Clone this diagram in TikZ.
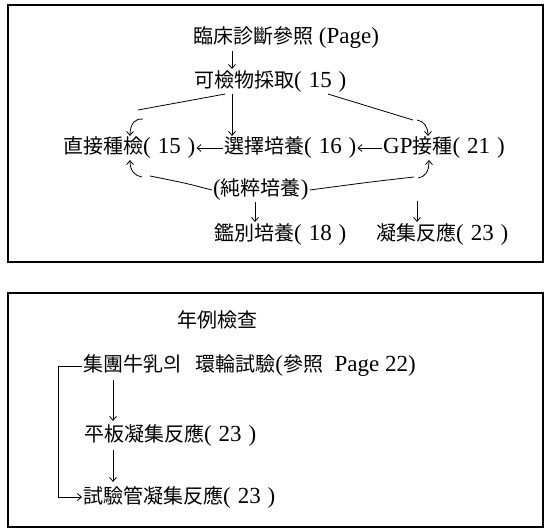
\documentclass[tikz,border=0pt]{standalone}
\usepackage{fontspec}
\setmainfont{Liberation Serif}
\newfontfamily\cjk{Noto Sans CJK KR}
\usetikzlibrary{arrows.meta}
\newcommand\C[1]{{\fontsize{20}{24}\cjk #1}}
\newcommand\pn[1]{(\hspace{0.3em}#1\hspace{0.3em})}
\begin{document}
\begin{tikzpicture}[x=1pt,y=-1pt,
  lbl/.style={inner sep=1pt, anchor=west, font=\fontsize{23}{26}\selectfont},
  conn/.style={line width=0.8pt},
  arr/.style={conn,-{Straight Barb[length=4pt,width=7pt]}},
  frame/.style={line width=1.1pt}]
\useasboundingbox (0,0) rectangle (551,532);
\draw[frame] (8,5) rectangle (543,262);
\draw[frame] (8,293) rectangle (543,527);

\node[lbl] (n1) at (192,38) {\C{臨床診斷參照} (Page)};
\node[lbl] (n2) at (193,82) {\C{可檢物採取}\pn{15}};
\node[lbl] (a) at (62,148) {\C{直接種檢}\pn{15}};
\node[lbl] (b) at (223,148) {\C{選擇培養}\pn{16}};
\node[lbl] (c) at (382,148) {GP\C{接種}\pn{21}};
\node[lbl] (p) at (212,190) {(\C{純粹培養})};
\node[lbl] (d) at (213,235) {\C{鑑別培養}\pn{18}};
\node[lbl] (e) at (375,235) {\C{凝集反應}\pn{23}};
\coordinate (agg) at (417,201);

\draw[arr,shorten <=1pt,shorten >=1pt] (n1.south -| 232,0) -- (n2.north -| 232,0);
\draw[conn] (n2.south -| 225,0) -- (138,110);
\draw[arr] (143,119) .. controls (136,118) and (130,123) .. (a.north -| 130,0);
\draw[arr] (n2.south -| 232,0) -- (b.north -| 232,0);
\draw[conn] (n2.south -| 328,0) -- (413,120);
\draw[arr] (417,120) .. controls (424,121) and (428,127) .. (c.north -| 428,0);
\draw[arr] (b.west) -- (a.east);
\draw[arr] (c.west) -- (b.east);
\draw[arr] (142,177) .. controls (135,176) and (130,171) .. (a.south -| 130,0);
\draw[conn] (p.west) .. controls (185,183) .. (150,176);
\draw[conn] (p.east) .. controls (370,182) .. (414,177);
\draw[arr] (418,178) .. controls (425,177) and (429,172) .. (c.south -| 429,0);
\draw[arr,shorten >=1pt] (p.south -| 255,0) -- (d.north -| 255,0);
\draw[arr,shorten >=1pt] (agg) -- (e.north -| 417,0);

\node[lbl, anchor=center] (t) at (217,320) {\C{年例檢查}};
\node[lbl] (f) at (82,366) {\C{集團牛乳의}\hspace{0.6em}\C{環輪試驗}(\C{參照}\hspace{0.5em}Page 22)};
\node[lbl] (g) at (83,436) {\C{平板凝集反應}\pn{23}};
\node[lbl] (h) at (82,497) {\C{試驗管凝集反應}\pn{23}};
\draw[arr] (f.west) -- (f.west -| 58,0) -- (h.west -| 58,0) -- (h.west);
\draw[arr,shorten <=2pt,shorten >=3pt] (f.south -| 113,0) -- (g.north -| 113,0);
\draw[arr,shorten <=2pt,shorten >=3pt] (g.south -| 113,0) -- (h.north -| 113,0);
\end{tikzpicture}
\end{document}
